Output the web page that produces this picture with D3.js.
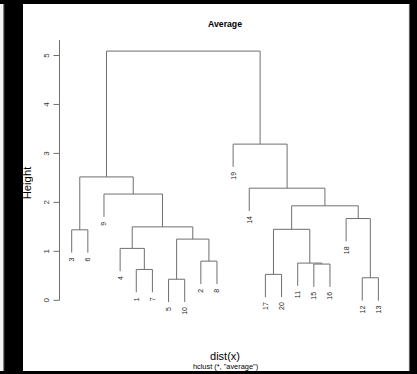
<!DOCTYPE html>
<html><head><meta charset="utf-8">
<script src="https://cdn.jsdelivr.net/npm/d3@7"></script>
<style>html,body{margin:0;padding:0;background:#000;}svg{display:block;}text{opacity:0.999;}</style>
</head><body>
<script>
// leaf order along x axis (labels of observations)
const leafOrder = [3, 6, 9, 4, 1, 7, 5, 10, 2, 8, 19, 14, 17, 20, 11, 15, 16, 18, 12, 13];
// merge steps, R hclust style: negative = leaf, positive = earlier step
const mergeLeft  = [-5, -12, -17, -1, -15, -11, -2, -4, 1, -3, 3, 8, -18, 11, -9, -14, 10, -19, 17];
const mergeRight = [-10, -13, -20, -7, -16, 5, -8, 4, 7, -6, 6, 9, 2, 13, 12, 14, 15, 16, 18];
const mergeHeight = [0.43, 0.46, 0.53, 0.63, 0.74, 0.76, 0.80, 1.06, 1.25, 1.44, 1.45, 1.50, 1.67, 1.93, 2.17, 2.29, 2.52, 3.19, 5.09];
const yTicks = [0, 1, 2, 3, 4, 5];
const title = "Average", xLabel = "dist(x)", yLabel = "Height", subLabel = 'hclust (*, "average")';

const W = 417, H = 374;
const svg = d3.select("body").append("svg").attr("width", W).attr("height", H);
svg.append("rect").attr("width", W).attr("height", H).attr("fill", "#000");
svg.append("rect").attr("x", 0).attr("y", 4).attr("width", 3.5).attr("height", 367).attr("fill", "#f4f4f4");
svg.append("line").attr("x1", 3.8).attr("x2", 3.8).attr("y1", 4).attr("y2", 371).attr("stroke", "#888").attr("stroke-width", 0.8);
svg.append("rect").attr("x", 23).attr("y", 4).attr("width", 386).attr("height", 367).attr("fill", "#fff");
svg.append("line").attr("x1", 409.3).attr("x2", 409.3).attr("y1", 4).attr("y2", 371).attr("stroke", "#999").attr("stroke-width", 0.8);

const x = d3.scaleLinear().domain([1, leafOrder.length]).range([71.7, 378.4]);
const y = d3.scaleLinear().domain([0, 5]).range([300.3, 55.5]);
const hang = 0.1 * (d3.max(mergeHeight) - d3.min(mergeHeight));

const pos = {};
leafOrder.forEach((l, i) => pos[l] = i + 1);
const lineColor = "#6f6f6f";
const g = svg.append("g").attr("fill", "none").attr("stroke", lineColor).attr("stroke-width", 1);
const nodeX = [], nodeH = [];
function child(c, parentH) {
  if (c < 0) {
    const lx = pos[-c];
    const endH = parentH - hang;
    svg.append("text").attr("transform", `translate(${x(lx) + 2.5},${y(endH) + 5}) rotate(-90)`)
      .attr("text-anchor", "end").attr("font-family", "Liberation Sans, Arial, sans-serif")
      .attr("font-size", 7).attr("fill", "#222").text(-c);
    return {x: lx, bottom: endH};
  }
  return {x: nodeX[c - 1], bottom: nodeH[c - 1]};
}
mergeHeight.forEach((h, i) => {
  const a = child(mergeLeft[i], h), b = child(mergeRight[i], h);
  const path = d3.path();
  path.moveTo(x(a.x), y(a.bottom));
  path.lineTo(x(a.x), y(h));
  path.lineTo(x(b.x), y(h));
  path.lineTo(x(b.x), y(b.bottom));
  g.append("path").attr("d", path.toString());
  nodeX.push((a.x + b.x) / 2);
  nodeH.push(h);
});

// y axis
const ax = svg.append("g").attr("stroke", lineColor).attr("stroke-width", 1);
ax.append("line").attr("x1", 59.5).attr("x2", 59.5).attr("y1", 40).attr("y2", y(0));
yTicks.forEach(t => {
  ax.append("line").attr("x1", 53.5).attr("x2", 59.5).attr("y1", y(t)).attr("y2", y(t));
  svg.append("text").attr("transform", `translate(48.7,${y(t)}) rotate(-90)`)
    .attr("text-anchor", "middle").attr("font-family", "Liberation Sans, Arial, sans-serif")
    .attr("font-size", 8).attr("fill", "#333").text(t);
});

svg.append("text").attr("x", 225).attr("y", 26.5).attr("text-anchor", "middle")
  .attr("font-family", "Liberation Sans, Arial, sans-serif").attr("font-weight", "bold")
  .attr("font-size", 8.7).attr("fill", "#000").text(title);
svg.append("text").attr("x", 225).attr("y", 359.5).attr("text-anchor", "middle")
  .attr("font-family", "Liberation Sans, Arial, sans-serif").attr("font-size", 11)
  .attr("fill", "#000").text(xLabel);
svg.append("text").attr("x", 225.5).attr("y", 368.8).attr("text-anchor", "middle")
  .attr("font-family", "Liberation Sans, Arial, sans-serif").attr("font-size", 7.4)
  .attr("fill", "#000").text(subLabel);
svg.append("text").attr("transform", "translate(30.8,183) rotate(-90)").attr("text-anchor", "middle")
  .attr("font-family", "Liberation Sans, Arial, sans-serif").attr("font-size", 11.3)
  .attr("fill", "#000").text(yLabel);
</script>
</body></html>
